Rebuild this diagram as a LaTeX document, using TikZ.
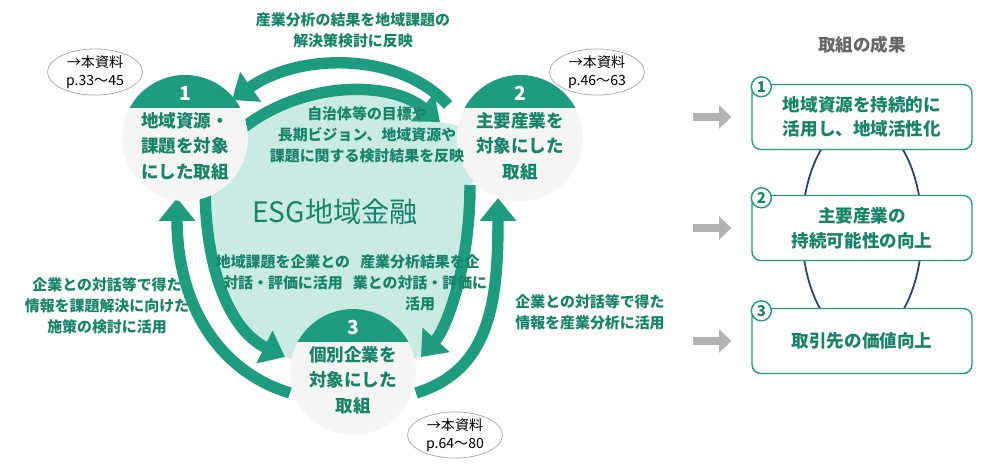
\documentclass[tikz,border=0pt]{standalone}
\usepackage{fontspec}
\setmainfont{Noto Sans CJK JP}
\usetikzlibrary{arrows.meta,positioning,calc,shapes.geometric}
\definecolor{esggreen}{HTML}{1E9C7E}
\definecolor{esgtext}{HTML}{17846A}
\definecolor{esglight}{HTML}{C9EBE4}
\definecolor{esgnavy}{HTML}{2E3C6E}
\begin{document}
\begin{tikzpicture}[x=0.02cm,y=-0.02cm,font=\bfseries\fontsize{8.5}{12}\selectfont,
flow/.style={draw=esggreen,line width=6.5pt,-{Triangle[length=13pt,width=20pt]}},
note/.style={text=esgtext,align=center},
ref/.style={ellipse,draw=gray!70,fill=white,minimum width=1.9cm,minimum height=0.75cm,align=center,inner sep=0pt,font=\fontsize{8}{10}\selectfont},
result/.style={draw=esggreen,line width=0.8pt,rounded corners=5pt,fill=white,minimum width=4.4cm,minimum height=1.3cm,align=center,text=esgtext,font=\bfseries\fontsize{10}{14}\selectfont},
num/.style={circle,draw=esggreen,line width=0.8pt,fill=white,inner sep=0pt,minimum size=0.4cm,text=esgtext,font=\bfseries\fontsize{8.5}{10}\selectfont}]
\useasboundingbox (0,0) rectangle (1000,468);
\fill[white] (0,0) rectangle (1000,468);

% light area
\fill[esglight] (185,138) -- (238,132) .. controls (300,80) and (390,80) .. (440,122) -- (520,138)
  -- (470,185) .. controls (470,270) and (445,330) .. (421,357) -- (353,372)
  -- (285,357) .. controls (230,330) and (205,270) .. (205,185) -- cycle;

% named end points of the arrows
\coordinate (o2s) at (448,105); \coordinate (o1e) at (232,100);
\coordinate (i1s) at (238,132); \coordinate (i2e) at (440,122);
\coordinate (o3s) at (290,393); \coordinate (o1n) at (177,198);
\coordinate (i1b) at (205,185); \coordinate (i3e) at (285,357);
\coordinate (o3r) at (416,393); \coordinate (o2n) at (498,198);
\coordinate (i2b) at (470,185); \coordinate (i3w) at (421,357);

\draw[flow] (o2s) .. controls (400,52) and (300,52) .. (o1e);
\draw[flow] (i1s) .. controls (300,80) and (390,80) .. (i2e);
\draw[flow] (o3s) .. controls (215,370) and (177,300) .. (o1n);
\draw[flow] (i1b) .. controls (205,270) and (230,330) .. (i3e);
\draw[flow] (o3r) .. controls (491,370) and (498,300) .. (o2n);
\draw[flow] (i2b) .. controls (470,270) and (445,330) .. (i3w);

% steps
\foreach \name/\cx/\cy/\n/\txt in {s1/185/138/1/{地域資源・\\課題を対象\\にした取組},
  s2/520/138/2/{主要産業を\\対象にした\\取組},s3/353/372/3/{個別企業を\\対象にした\\取組}}{
  \begin{scope}
    \clip (\cx,\cy) circle (63);
    \fill[gray!8] (\cx,\cy) circle (63);
    \fill[esggreen] (\cx-70,\cy-70) rectangle (\cx+70,\cy-30);
  \end{scope}
  \node[text=white,font=\bfseries\fontsize{11}{12}\selectfont] at (\cx,\cy-45) {\n};
  \node[note,font=\bfseries\fontsize{10}{14.5}\selectfont] (\name) at (\cx,\cy+8) {\txt};
}

\node[text=esgtext,font=\fontsize{16}{18}\selectfont] (esg) at (335,212) {ESG地域金融};

\node[note] (t12) at (353,30) {産業分析の結果を地域課題の\\解決策検討に反映};
\node[note] (t21) at (367,135) {自治体等の目標や\\長期ビジョン、地域資源や\\課題に関する検討結果を反映};
\node[note] (t13) at (283,272) {地域課題を企業との\\対話・評価に活用};
\node[note] (t23) at (420,283) {産業分析結果を企\\業との対話・評価に\\活用};
\node[note] (t31) at (107,306) {企業との対話等で得た\\情報を課題解決に向けた\\施策の検討に活用};
\node[note] (t32) at (590,312) {企業との対話等で得た\\情報を産業分析に活用};

\node[ref] (r1) at (95,72) {→本資料\\p.33～45};
\node[ref] (r2) at (597,72) {→本資料\\p.46～63};
\node[ref] (r3) at (455,435) {→本資料\\p.64～80};

% results
\node[text=gray!80!black,font=\bfseries\fontsize{10}{12}\selectfont] (head) at (862,45) {取組の成果};
\draw[esgnavy,line width=1pt] (862,230) ellipse (60 and 110);
\node[result] (g1) at (862,117) {地域資源を持続的に\\活用し、地域活性化};
\node[result] (g2) at (862,228) {主要産業の\\持続可能性の向上};
\node[result] (g3) at (862,341) {取引先の価値向上};
\foreach \g/\k in {g1/1,g2/2,g3/3}{
  \node[num] at ($(\g.north west)+(10,3)$) {\k};
  \coordinate (a\k) at ($(\g.west)+(-58,0)$);
  \draw[gray!60,line width=5pt,-{Triangle[length=7pt,width=13pt]}] (a\k) -- ++(38,0);
}
\end{tikzpicture}
\end{document}
